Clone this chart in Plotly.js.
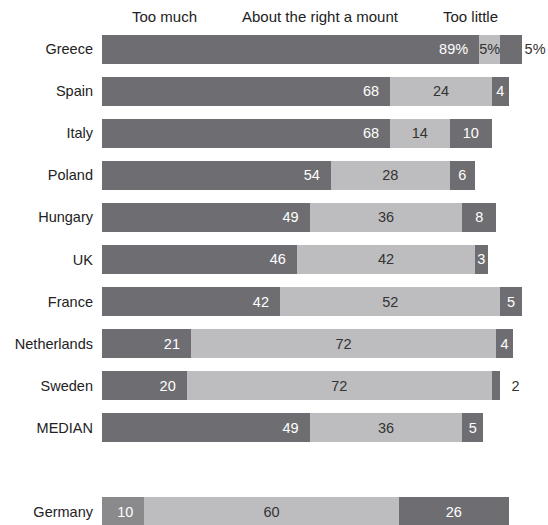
<!DOCTYPE html>
<html>
<head>
<meta charset="utf-8">
<script src="https://cdn.plot.ly/plotly-3.0.1.min.js"></script>
<style>html,body{margin:0;padding:0;background:#fff;}#chart{width:548px;height:525px;}</style>
</head>
<body>
<div id="chart"></div>
<script>
const categories = ['Greece','Spain','Italy','Poland','Hungary','UK','France','Netherlands','Sweden','MEDIAN','Germany'];
const tooMuch   = [89, 68, 68, 54, 49, 46, 42, 21, 20, 49, 10];
const aboutRight= [5, 24, 14, 28, 36, 42, 52, 72, 72, 36, 60];
const tooLittle = [5, 4, 10, 6, 8, 3, 5, 4, 2, 5, 26];
const seriesNames = ['Too much', 'About the right a mount', 'Too little'];

const DARK = '#6e6e72', LIGHT = '#bdbdbf', MID = '#8a8a8c';
// vertical slot of each category (one empty slot before Germany)
const ypos = categories.map((c, i) => c === 'Germany' ? i + 1 : i);
const pct = c => c === 'Greece' ? '%' : '';
const NB = '\u00a0';

const tooMuchText = tooMuch.map((v, i) => v + pct(categories[i]) + NB + NB);
const aboutText = aboutRight.map((v, i) => v + pct(categories[i]));
const littleText = tooLittle.map((v, i) => (categories[i] === 'Sweden' ? NB + NB : '') + v + pct(categories[i]));
const littlePos = categories.map(c => (c === 'Greece' || c === 'Sweden') ? 'outside' : 'inside');

const font = 'Liberation Sans, Arial, sans-serif';
const FS = 14.5;

const traces = [
  {
    type: 'bar', orientation: 'h', name: seriesNames[0],
    x: tooMuch, y: ypos, text: tooMuchText, textposition: 'inside', textangle: 0,
    insidetextanchor: 'end', constraintext: 'none',
    textfont: {color: '#ffffff', size: FS, family: font},
    marker: {color: categories.map(c => c === 'Germany' ? MID : DARK)}
  },
  {
    type: 'bar', orientation: 'h', name: seriesNames[1],
    x: aboutRight, y: ypos, text: aboutText, textposition: 'inside', textangle: 0,
    insidetextanchor: 'middle', constraintext: 'none',
    textfont: {color: '#333333', size: FS, family: font},
    marker: {color: LIGHT}
  },
  {
    type: 'bar', orientation: 'h', name: seriesNames[2],
    x: tooLittle, y: ypos, text: littleText, textposition: littlePos, textangle: 0,
    insidetextanchor: 'middle', constraintext: 'none', cliponaxis: false,
    insidetextfont: {color: '#ffffff', size: FS, family: font},
    outsidetextfont: {color: '#333333', size: FS, family: font},
    marker: {color: DARK}
  }
];

const layout = {
  width: 548, height: 525,
  margin: {l: 102, r: 1, t: 28, b: 0},
  barmode: 'stack', bargap: 0.31,
  showlegend: false,
  paper_bgcolor: '#ffffff', plot_bgcolor: '#ffffff',
  font: {family: font, size: FS, color: '#222222'},
  xaxis: {range: [0, 105], showgrid: false, zeroline: false, showticklabels: false, ticks: '', showline: false, fixedrange: true},
  yaxis: {range: [11.31, -0.5], tickvals: ypos, ticktext: categories, showgrid: false, zeroline: false,
          ticks: '', ticklabelstandoff: 8, showline: false, tickfont: {size: FS, color: '#222222', family: font}},
  annotations: [
    {text: seriesNames[0], x: 164, y: 16},
    {text: seriesNames[1], x: 320, y: 16},
    {text: seriesNames[2], x: 470, y: 16}
  ].map(a => ({text: a.text, xref: 'paper', yref: 'paper',
    x: (a.x - 102) / 445, y: 1 + (28 - a.y) / 497, xanchor: 'center', yanchor: 'middle',
    showarrow: false, font: {size: 15, color: '#222222', family: font}}))
};

Plotly.newPlot('chart', traces, layout, {displayModeBar: false, staticPlot: true});
</script>
</body>
</html>
